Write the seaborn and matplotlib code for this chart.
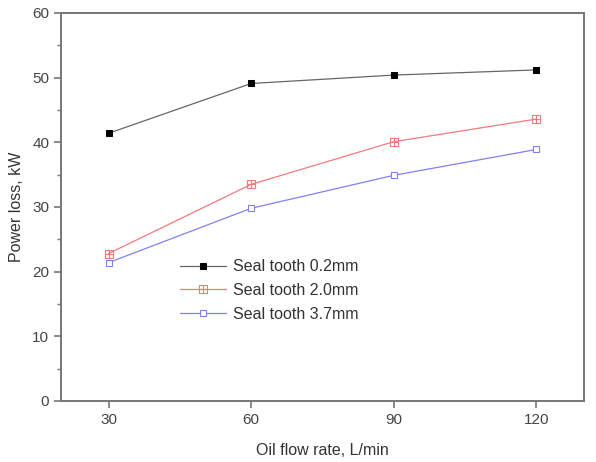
import matplotlib
matplotlib.use("Agg")
import matplotlib.pyplot as plt
import seaborn as sns
import numpy as np
from matplotlib.path import Path
from matplotlib.ticker import MultipleLocator

flow_rate = [30, 60, 90, 120]
seal_02 = [41.4, 49.1, 50.4, 51.2]
seal_20 = [22.8, 33.5, 40.1, 43.6]
seal_37 = [21.4, 29.8, 34.9, 38.9]
labels = ["Seal tooth 0.2mm", "Seal tooth 2.0mm", "Seal tooth 3.7mm"]
x_ticks = [30, 60, 90, 120]
y_ticks = [0, 10, 20, 30, 40, 50, 60]

sns.set_style("ticks")
plt.rcParams['font.family'] = ['Liberation Sans', 'DejaVu Sans']

# square with a plus inside
sq_plus = Path(
    [(-1, -1), (1, -1), (1, 1), (-1, 1), (-1, -1), (0, -1), (0, 1), (-1, 0), (1, 0)],
    [Path.MOVETO, Path.LINETO, Path.LINETO, Path.LINETO, Path.CLOSEPOLY,
     Path.MOVETO, Path.LINETO, Path.MOVETO, Path.LINETO])

fig = plt.figure(figsize=(5.96, 4.62), dpi=100)
ax = fig.add_axes([61/596, 1-401/462, 523/596, 388/462])

sns.lineplot(x=flow_rate, y=seal_02, ax=ax, color="#666666", lw=0.9,
             marker="s", markersize=5, markerfacecolor="black",
             markeredgecolor="black", label=labels[0])
sns.lineplot(x=flow_rate, y=seal_20, ax=ax, color="#f27a7a", lw=0.9,
             marker=sq_plus, markersize=5.5, markerfacecolor="none",
             markeredgecolor="#f27a7a", markeredgewidth=0.8, label=labels[1])
sns.lineplot(x=flow_rate, y=seal_37, ax=ax, color="#8080f5", lw=0.9,
             marker="s", markersize=5, markerfacecolor="white",
             markeredgecolor="#8080f5", markeredgewidth=0.8, label=labels[2])

ax.set_xlim(20, 130)
ax.set_ylim(0, 60)
ax.set_xticks(x_ticks)
ax.set_yticks(y_ticks)
ax.yaxis.set_minor_locator(MultipleLocator(5))
for s in ax.spines.values():
    s.set_visible(True)
    s.set_color("#777777")
    s.set_linewidth(1.4)
ax.tick_params(axis="both", which="major", direction="out", length=5, width=1.2,
               color="#777777", labelsize=11, labelcolor="#444444")
ax.tick_params(axis="y", which="minor", direction="out", length=3, width=1.0, color="#777777")
ax.set_xlabel("Oil flow rate, L/min", fontsize=11.5, color="#333333", labelpad=12)
ax.set_ylabel("Power loss, kW", fontsize=11.5, color="#333333", labelpad=6)

leg = ax.legend(loc="upper left", bbox_to_anchor=(0.212, 0.386), frameon=False,
                fontsize=11.5, borderpad=0, handlelength=2.9, handletextpad=0.45,
                labelspacing=0.55)
for t in leg.get_texts():
    t.set_color("#333333")

fig.savefig("out.png", dpi=100)
